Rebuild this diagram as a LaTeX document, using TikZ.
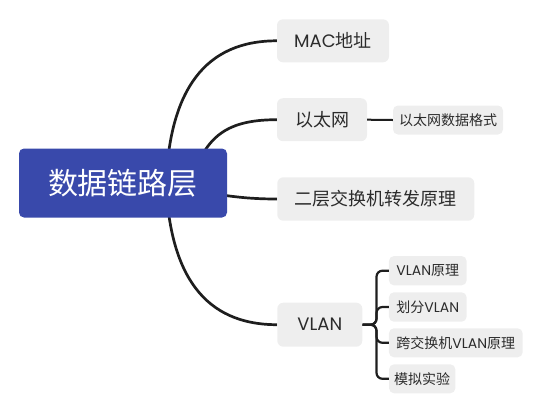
\documentclass[tikz,border=0pt]{standalone}
\usepackage{fontspec}
\setmainfont{Noto Sans CJK SC}
\newfontfamily\lat{Poppins}
\usetikzlibrary{backgrounds,calc}
\definecolor{hub}{HTML}{3949AB}
\definecolor{boxfill}{HTML}{EEEEEE}
\definecolor{ink}{HTML}{1E1E1E}
\definecolor{txt}{HTML}{2B2B2B}
\begin{document}
\begin{tikzpicture}[x=1pt,y=-1pt,
  box/.style={fill=boxfill,rounded corners=6pt,inner sep=0pt,text=txt,font=\fontsize{18}{20}\selectfont},
  sbox/.style={fill=boxfill,rounded corners=5pt,inner sep=0pt,text=txt,font=\fontsize{14}{16}\selectfont},
  conn/.style={draw=ink,line width=2.7pt},
  sconn/.style={draw=ink,line width=2.2pt,rounded corners=6pt}]
\useasboundingbox (0,0) rectangle (544,405);
\node[fill=hub,rounded corners=5pt,minimum width=208pt,minimum height=69pt,inner sep=0pt,text=white,font=\fontsize{30}{32}\selectfont] (c) at (123,183) {数据链路层};
\node[box,minimum width=112pt,minimum height=43pt] (mac) at (333,40.8) {{\lat MAC}地址};
\node[box,minimum width=90pt,minimum height=43pt] (eth) at (322,119.7) {以太网};
\node[sbox,minimum width=110pt,minimum height=29pt] (ethfmt) at (448,120) {以太网数据格式};
\node[box,minimum width=197pt,minimum height=43.4pt] (l2) at (375.8,199) {二层交换机转发原理};
\node[box,minimum width=85pt,minimum height=44pt] (vlan) at (319.8,324.7) {\lat VLAN};
\node[sbox,minimum width=77.7pt,minimum height=29.3pt] (v1) at (427.8,270.7) {{\lat VLAN}原理};
\node[sbox,minimum width=77.7pt,minimum height=29.4pt] (v2) at (427.8,307) {划分{\lat VLAN}};
\node[sbox,minimum width=133.7pt,minimum height=29pt] (v3) at (455.8,342.8) {跨交换机{\lat VLAN}原理};
\node[sbox,minimum width=66.3pt,minimum height=29pt] (v4) at (422.2,378.8) {模拟实验};
\begin{pgfonlayer}{background}
\draw[conn] ($(c.center)+(43,0)$) .. controls ($(c.center)+(47,-93)$) and ($(mac.west)+(-72,0)$) .. (mac.west);
\draw[conn] ($(c.center)+(67,0)$) .. controls ($(c.center)+(82,-43)$) and ($(eth.west)+(-55,0)$) .. (eth.west);
\draw[conn] ($(c.center)+(77,9)$) .. controls ($(c.center)+(107,13)$) and ($(l2.west)+(-32,0)$) .. (l2.west);
\draw[conn] ($(c.center)+(43,0)$) .. controls ($(c.center)+(47,93)$) and ($(vlan.west)+(-72,0)$) .. (vlan.west);
\end{pgfonlayer}
\draw[draw=ink,line width=2pt] (eth.east) -- (ethfmt.west);
\draw[sconn] (vlan.east) -- ++(14,0) |- (v1.west);
\draw[sconn] (vlan.east) -- ++(14,0) |- (v2.west);
\draw[sconn] (vlan.east) -- ++(14,0) |- (v3.west);
\draw[sconn] (vlan.east) -- ++(14,0) |- (v4.west);
\end{tikzpicture}
\end{document}
